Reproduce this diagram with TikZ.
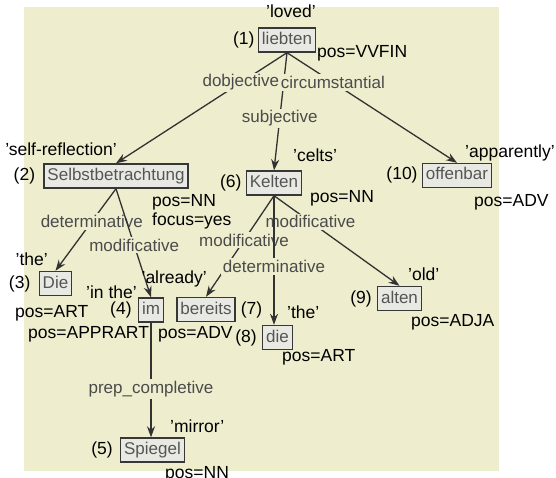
\documentclass[tikz,border=0pt]{standalone}
\usepackage{fontspec}
\setmainfont{Liberation Sans}
\usetikzlibrary{arrows.meta}

\definecolor{canvas}{RGB}{238,237,206}
\definecolor{boxfill}{RGB}{233,233,228}
\definecolor{boxline}{RGB}{55,55,55}
\definecolor{wordgray}{RGB}{85,85,85}
\definecolor{relgray}{RGB}{75,75,75}
\definecolor{edgegray}{RGB}{50,50,50}

\tikzset{
  word/.style={draw=boxline, line width=1.4bp, fill=boxfill, text=wordgray,
    font=\fontsize{17bp}{20bp}\selectfont, inner xsep=3.5bp, inner ysep=4bp,
    text height=12.5bp, text depth=3.5bp},
  note/.style={font=\fontsize{17.5bp}{21bp}\selectfont, text=black, inner sep=0pt},
  dep/.style={draw=edgegray, line width=1.3bp, -{Stealth[length=11bp,width=8bp]}},
  rel/.style={font=\fontsize{17bp}{20bp}\selectfont, text=relgray, fill=canvas,
    inner xsep=1.5bp, inner ysep=2bp},
}

\begin{document}
\begin{tikzpicture}[x=1bp,y=-1bp]
\useasboundingbox (0,0) rectangle (556,478);
\fill[canvas] (24,7) rectangle (499,471);

% words of the sentence
\node[word] (liebten)  at (287,40)      {liebten};
\node[word] (selbst)   at (116,176)     {Selbstbetrachtung};
\node[word] (die3)     at (55.5,283.5)  {Die};
\node[word] (im)       at (151,310)     {im};
\node[word] (spiegel)  at (152.5,450)   {Spiegel};
\node[word] (kelten)   at (274,183)     {Kelten};
\node[word] (bereits)  at (206,309.5)   {bereits};
\node[word] (die8)     at (277.5,337.5) {die};
\node[word] (alten)    at (399.5,298.5) {alten};
\node[word] (offenbar) at (457,175.5)   {offenbar};

% dependency relations
\draw[dep] (liebten.south) -- node[rel,pos=0.27] {dobjective} (selbst.north);
\draw[dep] (liebten.south) -- node[rel,pos=0.56] {subjective} (kelten.north);
\draw[dep] (liebten.south) -- node[rel,pos=0.27] {circumstantial} (offenbar.north);
\draw[dep] (selbst.south) -- node[rel,pos=0.40] {determinative} (die3.north);
\draw[dep] (selbst.south) -- node[rel,pos=0.52] {modificative} (im.north);
\draw[dep] (im.south) -- node[rel,pos=0.58] {prep\_completive} (im.south |- spiegel.north);
\draw[dep] (kelten.south) -- node[rel,pos=0.29] {modificative} (alten.north);
\draw[dep] (kelten.south) -- node[rel,pos=0.44] {modificative} (bereits.north);
\draw[dep] (kelten.south) -- node[rel,pos=0.55] {determinative} (kelten.south |- die8.north);

% word numbers
\node[note, anchor=base east] (n1)  at ([xshift=-3bp]liebten.base west)  {(1)};
\node[note, anchor=base east] (n2)  at ([xshift=-8bp]selbst.base west)   {(2)};
\node[note, anchor=base east] (n3)  at ([xshift=-8bp]die3.base west)     {(3)};
\node[note, anchor=base east] (n4)  at ([xshift=-6bp]im.base west)       {(4)};
\node[note, anchor=base east] (n5)  at ([xshift=-7bp]spiegel.base west)  {(5)};
\node[note, anchor=base east] (n6)  at ([xshift=-4bp]kelten.base west)   {(6)};
\node[note, anchor=base west] (n7)  at ([xshift=5bp]bereits.base east)   {(7)};
\node[note, anchor=base east] (n8)  at ([xshift=-5bp]die8.base west)     {(8)};
\node[note, anchor=base east] (n9)  at ([xshift=-5bp]alten.base west)    {(9)};
\node[note, anchor=base east] (n10) at ([xshift=-4bp]offenbar.base west) {(10)};

% glosses
\node[note, anchor=base]      (g1)  at (291,18)  {'loved'};
\node[note, anchor=base east] (g2)  at (117,156) {'self-reflection'};
\node[note, anchor=base east] (g3)  at (48,265)  {'the'};
\node[note, anchor=base east] (g4)  at (137,298) {'in the'};
\node[note, anchor=base west] (g5)  at (170,432) {'mirror'};
\node[note, anchor=base west] (g6)  at (293,162) {'celts'};
\node[note, anchor=base east] (g7)  at (207,283) {'already'};
\node[note, anchor=base west] (g8)  at (287,318) {'the'};
\node[note, anchor=base west] (g9)  at (408,280) {'old'};
\node[note, anchor=base west] (g10) at (465,158) {'apparently'};

% features
\node[note, anchor=base west] (f1)  at (317,58)    {pos=VVFIN};
\node[note, anchor=base west] (f2)  at (152,206.5) {pos=NN};
\node[note, anchor=base west] (f2b) at (152,225)   {focus=yes};
\node[note, anchor=base west] (f3)  at (15,317.5)  {pos=ART};
\node[note, anchor=base west] (f4)  at (28,338)    {pos=APPRART};
\node[note, anchor=base west] (f5)  at (165,478.5) {pos=NN};
\node[note, anchor=base west] (f6)  at (310,202.5) {pos=NN};
\node[note, anchor=base west] (f7)  at (158,338)   {pos=ADV};
\node[note, anchor=base west] (f8)  at (282,361.5) {pos=ART};
\node[note, anchor=base west] (f9)  at (411,326.5) {pos=ADJA};
\node[note, anchor=base west] (f10) at (474,206.5) {pos=ADV};
\end{tikzpicture}
\end{document}
